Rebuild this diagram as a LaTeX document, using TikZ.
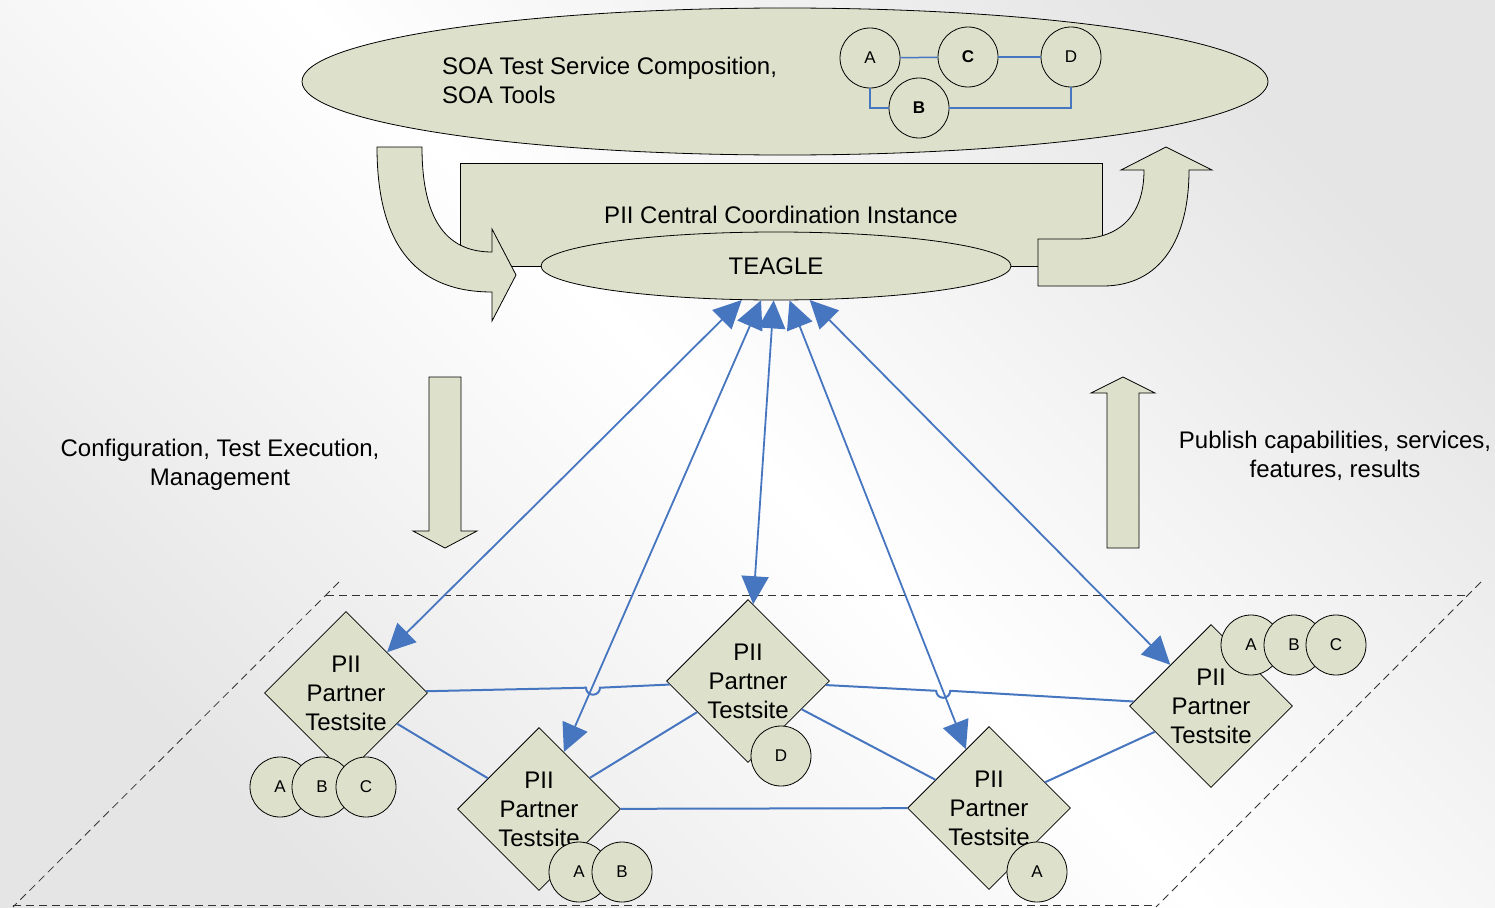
\documentclass[tikz,border=0pt]{standalone}
\usepackage{fontspec}
\setmainfont{Liberation Sans}
\usetikzlibrary{shapes.geometric,arrows.meta,calc}
\definecolor{olivefill}{RGB}{221,225,203}
\definecolor{conblue}{RGB}{71,118,192}
\begin{document}
\begin{tikzpicture}[x=1pt,y=-1pt,
  bigtext/.style={font=\fontsize{24}{29}\selectfont},
  smalltext/.style={font=\fontsize{17}{20}\selectfont},
  olive/.style={draw=black,line width=0.8pt,fill=olivefill},
  blockarrow/.style={olive,line join=miter},
  sitebox/.style={olive,shape=diamond,aspect=1,minimum width=163pt,minimum height=163pt,inner sep=0pt,align=center,bigtext},
  svc/.style={olive,circle,minimum size=60pt,inner sep=0pt,smalltext},
  conline/.style={draw=conblue,line width=2pt},
  thinline/.style={draw=conblue,line width=1.5pt},
  dblarrow/.style={draw=conblue,line width=1.8pt,{Triangle[length=28pt,width=27pt]}-{Triangle[length=28pt,width=27pt]}},
  dashline/.style={draw=black!80,line width=0.8pt,dash pattern=on 8pt off 5pt}
]
\useasboundingbox (0,0) rectangle (1495,907);
\shade[top color=black!10, bottom color=black!10, middle color=white, shading angle=-45] (0,0) rectangle (1495,907);

% dashed plane
\draw[dashline] (326,595) -- (1469,595);
\draw[dashline] (339,582) -- (13,907);
\draw[dashline] (1481,582) -- (1156,907);
\draw[dashline] (13,905) -- (1156,905);

% top ellipse
\node[olive,ellipse,minimum width=966pt,minimum height=147pt,inner sep=0pt] (soa) at (785,81.5) {};
\node[bigtext,align=left,anchor=west,inner sep=0pt] (soatxt) at (442,80.5) {SOA Test Service Composition,\\SOA Tools};
\node[svc] (tA) at (870,58) {A};
\node[svc] (tC) at (968,57) {\bfseries C};
\node[svc] (tD) at (1071,57) {D};
\node[svc] (tB) at (919,108) {\bfseries B};
\draw[thinline] (tA) -- (tC);
\draw[thinline] (tC) -- (tD);
\draw[thinline] (tA.south) |- (tB.west);
\draw[thinline] (tB.east) -| (tD.south);

% central coordination instance
\node[olive,rectangle,minimum width=642pt,minimum height=103pt,inner sep=0pt,bigtext] (pci) at (781,214.5) {PII Central Coordination Instance};

% curved block arrows
\draw[blockarrow] (377,147) -- (422,147) .. controls (422,225) and (450,252) .. (492,252)
  -- (492,229) -- (516,275) -- (492,321) -- (492,292)
  .. controls (420,292) and (377,250) .. (377,147) -- cycle;
\draw[blockarrow] (1038,239) -- (1077,239) .. controls (1125,239) and (1144,210) .. (1144,170)
  -- (1121,170) -- (1166,147) -- (1212,170) -- (1189,170)
  .. controls (1189,240) and (1160,286) .. (1103,286) -- (1038,286) -- cycle;

% TEAGLE
\node[olive,ellipse,minimum width=470pt,minimum height=68pt,inner sep=0pt,bigtext] (teagle) at (776,266) {TEAGLE};

% straight block arrows
\draw[blockarrow] (429,377) -- (461,377) -- (461,531) -- (477,531) -- (445,548) -- (413,531) -- (429,531) -- cycle;
\draw[blockarrow] (1107,548) -- (1139,548) -- (1139,393) -- (1155,393) -- (1123,377) -- (1091,393) -- (1107,393) -- cycle;

\node[bigtext,align=center] (lcfg) at (220,464.5) {Configuration, Test Execution,\\Management};
\node[bigtext,align=center] (lpub) at (1335,455.5) {Publish capabilities, services,\\features, results};

% partner testsites
\node[sitebox] (d1) at (346,693) {PII\\Partner\\Testsite};
\node[sitebox] (d2) at (539,809) {PII\\Partner\\Testsite};
\node[sitebox] (d3) at (748,681) {PII\\Partner\\Testsite};
\node[sitebox] (d4) at (989,808) {PII\\Partner\\Testsite};
\node[sitebox] (d5) at (1211,706) {PII\\Partner\\Testsite};

% connections between testsites
\coordinate (h1) at (586,687.7);
\coordinate (h2) at (936.2,690.8);
\draw[conline] (d1) -- (h1) arc[start angle=180,end angle=360,radius=7pt] -- (d3);
\draw[conline] (d3) -- (h2) arc[start angle=180,end angle=360,radius=7pt] -- (d5);
\draw[conline] (d1) -- (d2);
\draw[conline] (d2) -- (d3);
\draw[conline] (d2) -- (d4);
\draw[conline] (d3) -- (d4);
\draw[conline] (d4) -- (d5);

% arrows from TEAGLE
\draw[dblarrow] (teagle) -- (d1);
\draw[dblarrow] (teagle) -- (d2);
\draw[dblarrow] (teagle) -- (d3);
\draw[dblarrow] (teagle) -- (d4);
\draw[dblarrow] (teagle) -- (d5);

% service circles
\node[svc] (a1) at (280,787) {A};
\node[svc] (b1) at (322,787) {B};
\node[svc] (c1) at (366,787) {C};
\node[svc] (a2) at (579,872) {A};
\node[svc] (b2) at (622,872) {B};
\node[svc] (dd3) at (781,756) {D};
\node[svc] (a4) at (1037,872) {A};
\node[svc] (a5) at (1251,645) {A};
\node[svc] (b5) at (1294,645) {B};
\node[svc] (c5) at (1336,645) {C};
\end{tikzpicture}
\end{document}
